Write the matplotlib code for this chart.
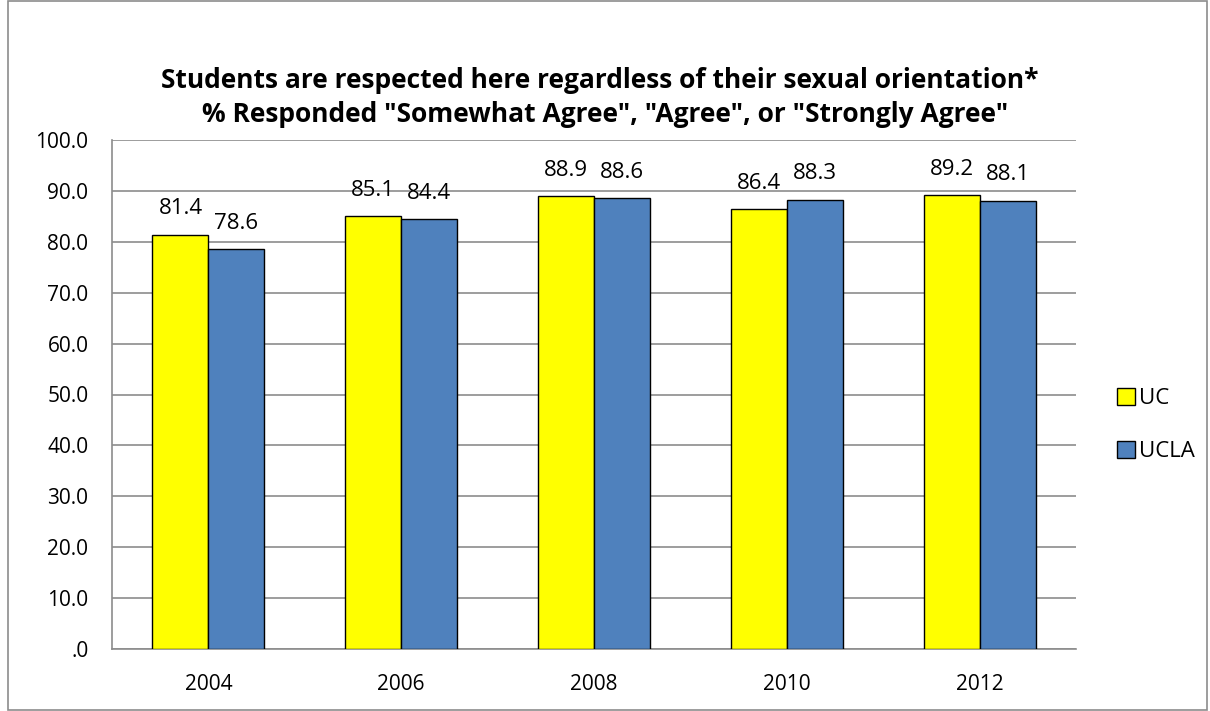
import numpy as np
import matplotlib
matplotlib.use("Agg")
import matplotlib.pyplot as plt
from matplotlib.patches import Rectangle

years = ["2004", "2006", "2008", "2010", "2012"]
uc = [81.4, 85.1, 88.9, 86.4, 89.2]
ucla = [78.6, 84.4, 88.6, 88.3, 88.1]
y_ticks = [0, 10, 20, 30, 40, 50, 60, 70, 80, 90, 100]
y_tick_labels = [".0"] + ["%.1f" % v for v in y_ticks[1:]]

plt.rcParams["font.family"] = ["Open Sans", "DejaVu Sans"]

fig = plt.figure(figsize=(12.1, 7.11), dpi=100)
ax = fig.add_axes([112 / 1210, 1 - 649 / 711, 964 / 1210, 509 / 711])

# outer chart border
fig.patches.append(Rectangle((8 / 1210, 0.002), 1199 / 1210, 0.996, transform=fig.transFigure,
                             fill=False, edgecolor="#8c8c8c", linewidth=1.2))

x = np.arange(len(years))
w = 0.29
b1 = ax.bar(x - w / 2, uc, w, color="#ffff00", edgecolor="black", linewidth=1, label="UC", zorder=3)
b2 = ax.bar(x + w / 2, ucla, w, color="#4f81bd", edgecolor="black", linewidth=1, label="UCLA", zorder=3)

for bars, vals in ((b1, uc), (b2, ucla)):
    for r, v in zip(bars, vals):
        ax.text(r.get_x() + r.get_width() / 2, v + 3.0, "%.1f" % v, ha="center", va="bottom", fontsize=16)

ax.set_xlim(-0.5, len(years) - 0.5)
ax.set_ylim(0, 100)
ax.set_yticks(y_ticks)
ax.set_yticklabels(y_tick_labels, fontsize=15)
ax.set_xticks(x)
ax.set_xticklabels(years, fontsize=15)
ax.tick_params(axis="y", length=0, pad=17)
ax.tick_params(axis="x", length=0, pad=18)
ax.yaxis.grid(True, color="#8c8c8c", linewidth=1.2, zorder=0)
for s in ("top", "right"):
    ax.spines[s].set_visible(False)
for s in ("left", "bottom"):
    ax.spines[s].set_color("#8c8c8c")
    ax.spines[s].set_linewidth(1.2)

fig.text(0.496, 1 - 80 / 711, "Students are respected here regardless of their sexual orientation*",
         ha="center", va="center", fontsize=19, fontweight="bold")
fig.text(0.500, 1 - 114 / 711, "% Responded \"Somewhat Agree\", \"Agree\", or \"Strongly Agree\"",
         ha="center", va="center", fontsize=19, fontweight="bold")

ax.legend(loc="center left", bbox_to_anchor=(1.022, 0.44), frameon=False, fontsize=16,
          handlelength=0.8, handleheight=0.8, handletextpad=0.2, labelspacing=1.4)

fig.savefig("out.png", dpi=100)
